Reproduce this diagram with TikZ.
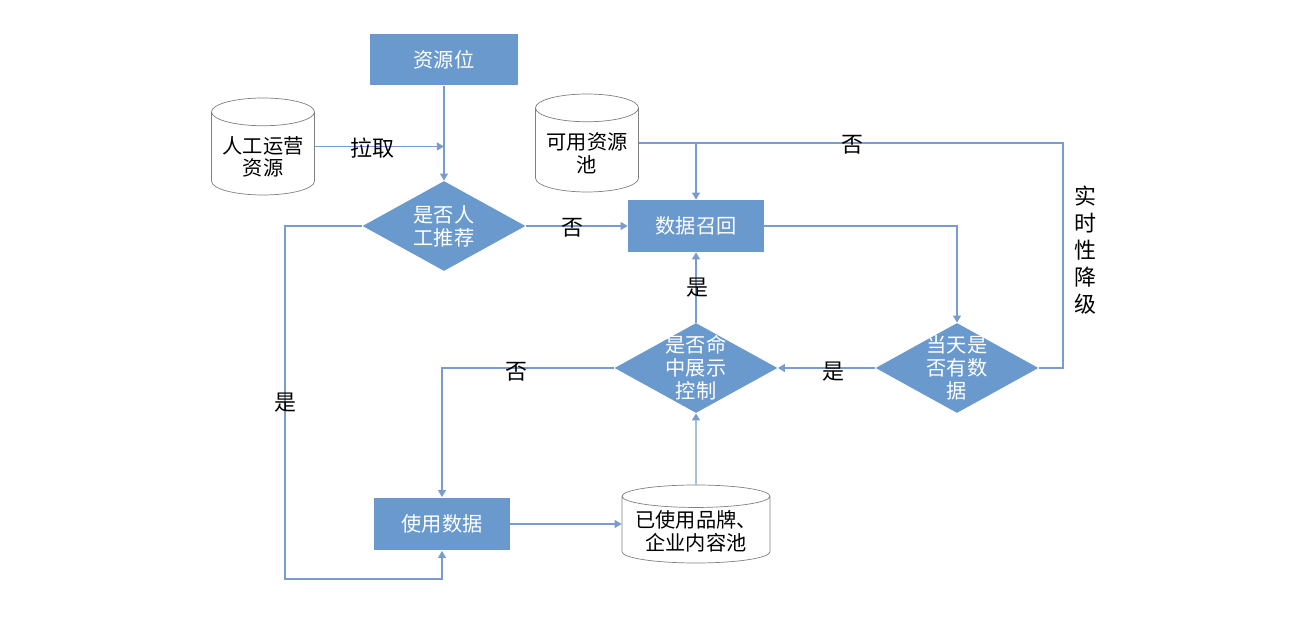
\documentclass[tikz,border=0pt]{standalone}
\usepackage{fontspec}
\setmainfont{Noto Sans CJK SC}
\usetikzlibrary{arrows.meta,shapes.geometric}
\definecolor{boxblue}{RGB}{106,153,206}
\definecolor{lineblue}{RGB}{122,156,204}
\definecolor{drumgray}{RGB}{128,128,128}

\tikzset{
  proc/.style={rectangle, fill=boxblue, text=white, minimum width=2.72cm, minimum height=1.04cm, font=\fontsize{11.5}{14}\selectfont},
  ask/.style={diamond, fill=boxblue, inner sep=0pt, minimum width=3.26cm, minimum height=1.8cm},
  asktext/.style={text=white, align=center, font=\fontsize{11.5}{13}\selectfont},
  drum/.style={cylinder, shape border rotate=90, aspect=0.3, anchor=shape center, draw=drumgray, fill=white, align=center, font=\fontsize{11.5}{13}\selectfont},
  flow/.style={draw=lineblue, line width=0.8pt, ->},
  tag/.style={font=\fontsize{12.5}{15.3}\selectfont}
}

\begin{document}
\begin{tikzpicture}[x=0.02cm, y=-0.02cm, >={Triangle[length=4pt, width=4.5pt]}]
    \useasboundingbox (0,0) rectangle (1306,624);

    % Boxes and pools
    \node[proc, minimum width=2.96cm, minimum height=1.02cm] (slot) at (444,60) {资源位};
    \node[drum, minimum width=2.06cm, minimum height=1.94cm] (manual) at (263,146.5) {人工运营\\资源};
    \node[drum, minimum width=2.06cm, minimum height=1.96cm] (pool) at (587,143) {可用资源\\池};
    \node[proc] (recall) at (696,226) {数据召回};
    \node[proc, minimum height=1.06cm] (use) at (442,524) {使用数据};
    \node[drum, aspect=0.18, inner sep=1pt, minimum width=2.96cm, minimum height=1.56cm] (used) at (696,524) {已使用品牌、\\企业内容池};

    % Decisions
    \node[ask, label={[asktext]center:{是否人\\工推荐}}] (human) at (444,226) {};
    \node[ask, label={[asktext]center:{是否命\\中展示\\控制}}] (hit) at (696,368) {};
    \node[ask, label={[asktext]center:{当天是\\否有数\\据}}] (today) at (957,368) {};

    % Corners
    \coordinate (loopdown) at (285,579);
    \coordinate (degrade) at (1063,143);

    % Connectors
    \draw[flow] (slot) -- (human);
    \draw[flow] (manual.shape center -| manual.east) -- (manual.shape center -| slot.south);
    \draw[flow] (human) -- (recall);
    \draw[flow] (human.west) -| (loopdown) -| (use.south);
    \draw[flow] (pool.shape center -| pool.east) -| (recall.north);
    \draw[draw=lineblue, line width=0.8pt] (today.east) -| (degrade) -- (pool.shape center -| recall.north);
    \draw[flow] (recall.east) -| (today.north);
    \draw[flow] (today) -- (hit);
    \draw[flow] (hit) -- (recall);
    \draw[flow] (hit.west) -| (use.north);
    \draw[flow] (use.east) -- (use.east -| used.west);
    \draw[flow] (used.north) -- (hit.south);

    % Labels on the lines
    \node[tag] (pull) at (372,148) {拉取};
    \node[tag] (no1) at (572,228) {否};
    \node[tag] (yes1) at (285,403) {是};
    \node[tag] (no2) at (852,145) {否};
    \node[tag, align=center] (drop) at (1085,250) {实\\时\\性\\降\\级};
    \node[tag] (yes2) at (697,288) {是};
    \node[tag] (yes3) at (833,372) {是};
    \node[tag] (no3) at (516,372) {否};
\end{tikzpicture}
\end{document}
